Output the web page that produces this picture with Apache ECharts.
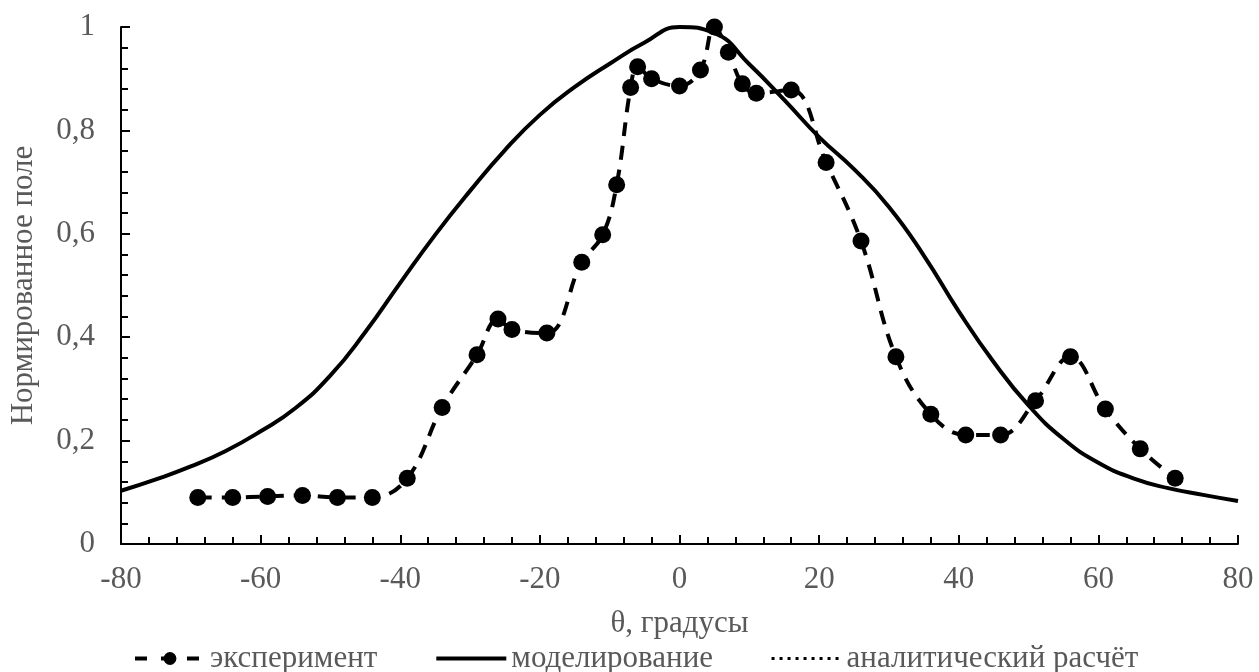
<!DOCTYPE html>
<html>
<head>
<meta charset="utf-8">
<script src="https://cdn.jsdelivr.net/npm/echarts@6/dist/echarts.min.js"></script>
<style>
html,body{margin:0;padding:0;background:#fff;}
#chart{width:1259px;height:672px;}
</style>
</head>
<body>
<div id="chart"></div>
<script>
// Experimental data (θ, degrees ; normalized field)
var expTheta = [-69,-64,-59,-54,-49,-44,-39,-34,-29,-26,-24,-19,-14,-11,-9,-7,-6,-4,0,3,5,7,9,11,16,21,26,31,36,41,46,51,56,61,66,71];
var expValues = [0.09,0.09,0.092,0.094,0.09,0.09,0.127,0.264,0.366,0.435,0.415,0.408,0.545,0.598,0.695,0.883,0.923,0.9,0.886,0.917,1.0,0.951,0.89,0.872,0.878,0.738,0.586,0.362,0.251,0.211,0.211,0.277,0.362,0.261,0.184,0.127];

// Simulation curve
var modelTheta = [-80,-75,-70,-65,-60,-55,-50,-45,-40,-35,-30,-25,-20,-15,-10,-5,0,5,10,15,20,25,30,35,40,45,50,55,60,65,70,75,80];
var modelValues = [0.103,0.125,0.150,0.180,0.218,0.263,0.326,0.410,0.505,0.598,0.683,0.762,0.830,0.884,0.929,0.970,1.0,0.988,0.928,0.859,0.787,0.725,0.652,0.558,0.450,0.352,0.268,0.203,0.157,0.127,0.108,0.095,0.083];

// Analytical calculation (coincides with simulation curve in the figure)
var analyticTheta = modelTheta;
var analyticValues = modelValues;

var seriesNames = ['эксперимент', 'моделирование', 'аналитический расчёт'];
var xTitle = 'θ, градусы';
var yTitle = 'Нормированное поле';

function pairs(xs, ys){ return xs.map(function(x,i){ return [x, ys[i]]; }); }

var FONT = '"Liberation Serif", "Times New Roman", serif';
var TXT = '#595959';

var chart = echarts.init(document.getElementById('chart'), null, {renderer:'canvas'});
chart.setOption({
  animation: false,
  backgroundColor: '#ffffff',
  textStyle: {fontFamily: FONT},
  grid: {left: 117, right: 21, top: 27, bottom: 128, containLabel: false},
  legend: {
    data: [
      {name: seriesNames[0], lineStyle: {width: 4, type: [12, 14]}},
      {name: seriesNames[1], itemStyle: {opacity: 0}, lineStyle: {width: 4}},
      {name: seriesNames[2], itemStyle: {opacity: 0}, lineStyle: {width: 3, type: [3, 5]}}
    ],
    left: 128, top: 638,
    itemWidth: 70, itemHeight: 16, itemGap: 57,
    textStyle: {fontFamily: FONT, fontSize: 31, color: TXT}
  },
  xAxis: {
    type: 'value', min: -80, max: 80, interval: 20,
    name: xTitle, nameLocation: 'middle', nameGap: 64,
    nameTextStyle: {fontFamily: FONT, fontSize: 31, color: TXT},
    axisLine: {onZero: false, lineStyle: {color: '#000', width: 2}},
    axisTick: {inside: true, length: 9, lineStyle: {color: '#000', width: 2}},
    minorTick: {show: true, splitNumber: 5, length: 7, lineStyle: {color: '#000', width: 2}},
    axisLabel: {fontFamily: FONT, fontSize: 31, color: TXT, margin: 20,
      formatter: function(v){ return String(v); }},
    splitLine: {show: false}
  },
  yAxis: {
    type: 'value', min: 0, max: 1, interval: 0.2,
    name: yTitle, nameLocation: 'middle', nameGap: 82, nameRotate: 90,
    nameTextStyle: {fontFamily: FONT, fontSize: 31, color: TXT},
    axisLine: {show: true, onZero: false, lineStyle: {color: '#000', width: 2}},
    axisTick: {show: true, inside: true, length: 9, lineStyle: {color: '#000', width: 2}},
    minorTick: {show: true, splitNumber: 5, length: 7, lineStyle: {color: '#000', width: 2}},
    axisLabel: {fontFamily: FONT, fontSize: 31, color: TXT, margin: 26,
      formatter: function(v){ return String(Math.round(v*10)/10).replace('.', ','); }},
    splitLine: {show: false}
  },
  series: [
    {
      name: seriesNames[0], type: 'line', data: pairs(expTheta, expValues),
      smooth: 0.4, symbol: 'circle', symbolSize: 17, showSymbol: true,
      itemStyle: {color: '#000'},
      lineStyle: {color: '#000', width: 4, type: [14, 10]}, z: 3
    },
    {
      name: seriesNames[1], type: 'line', data: pairs(modelTheta, modelValues),
      smooth: 0.5, symbol: 'none',
      itemStyle: {color: '#000'},
      lineStyle: {color: '#000', width: 4, type: 'solid'}, z: 2
    },
    {
      name: seriesNames[2], type: 'line', data: pairs(analyticTheta, analyticValues),
      smooth: 0.5, symbol: 'none',
      itemStyle: {color: '#000'},
      lineStyle: {color: '#000', width: 2, type: [2, 4]}, z: 1
    }
  ]
});
</script>
</body>
</html>
